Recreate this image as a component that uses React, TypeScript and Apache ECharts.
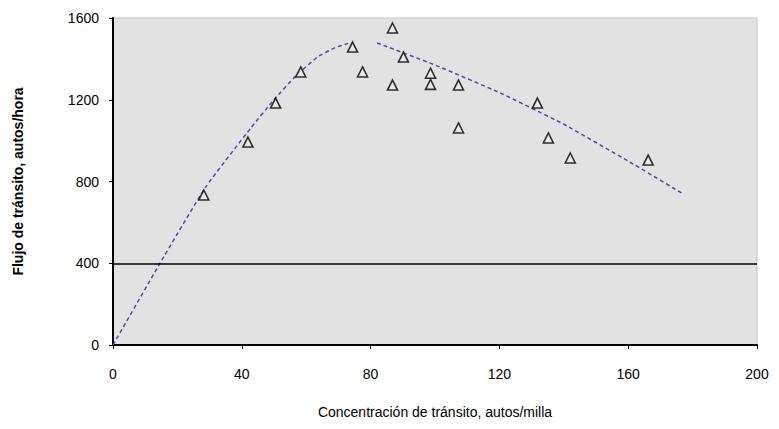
import React, { useEffect, useRef } from "react";
import * as echarts from "echarts";

const xTicks = [0, 40, 80, 120, 160, 200];
const yTicks = [0, 400, 800, 1200, 1600];

const observedPoints: [number, number][] = [
  [28.2, 734],
  [41.9, 993],
  [50.5, 1184],
  [58.3, 1336],
  [74.4, 1458],
  [77.5, 1336],
  [86.8, 1551],
  [86.8, 1272],
  [90.2, 1409],
  [98.6, 1330],
  [98.6, 1275],
  [107.3, 1272],
  [107.3, 1062],
  [131.8, 1184],
  [135.2, 1013],
  [142.0, 915],
  [166.2, 905],
];

const trendUncongested: [number, number][] = [
  [0, 0],
  [14.6, 400],
  [28.8, 773],
  [42.8, 1062],
  [50, 1200],
  [57, 1320],
  [63.6, 1410],
  [69, 1455],
  [73, 1476],
];

const trendCongested: [number, number][] = [
  [82, 1478],
  [100, 1370],
  [120, 1235],
  [140, 1080],
  [160, 900],
  [177, 740],
];

const thresholdFlow = 400;

const font = "'Liberation Sans', Arial, sans-serif";

export default function App() {
  const ref = useRef<HTMLDivElement>(null);
  useEffect(() => {
    if (!ref.current) return;
    const chart = echarts.init(ref.current, undefined, { renderer: "svg" });
    chart.setOption({
      animation: false,
      grid: {
        left: 113,
        right: 22,
        top: 18,
        bottom: 84,
        show: true,
        backgroundColor: "#e2e2e2",
        borderColor: "#c4c4c4",
        borderWidth: 1,
      },
      xAxis: {
        type: "value",
        min: 0,
        max: 200,
        interval: 40,
        name: "Concentración de tránsito, autos/milla",
        nameLocation: "middle",
        nameGap: 60,
        nameTextStyle: { fontFamily: font, fontSize: 14, color: "#000" },
        axisLine: { show: true, onZero: false, lineStyle: { color: "#000", width: 2 } },
        axisTick: { show: true, length: 4, lineStyle: { color: "#000" } },
        axisLabel: {
          fontFamily: font,
          fontSize: 14,
          color: "#000",
          margin: 22,
          formatter: (v: number) => String(v),
        },
        splitLine: { show: false },
      },
      yAxis: {
        type: "value",
        min: 0,
        max: 1600,
        interval: 400,
        name: "Flujo de tránsito, autos/hora",
        nameLocation: "middle",
        nameGap: 88,
        nameTextStyle: { fontFamily: font, fontSize: 14, fontWeight: "bold", color: "#000" },
        axisLine: { show: true, lineStyle: { color: "#000", width: 2 } },
        axisTick: { show: true, length: 4, lineStyle: { color: "#000" } },
        axisLabel: {
          fontFamily: font,
          fontSize: 14,
          color: "#000",
          margin: 14,
          formatter: (v: number) => String(v),
        },
        splitLine: { show: false },
      },
      series: [
        {
          type: "line",
          data: trendUncongested,
          smooth: 0.15,
          symbol: "none",
          lineStyle: { color: "#4b4ba6", width: 1.5, type: [4, 3] },
          z: 2,
          markLine: {
            silent: true,
            symbol: "none",
            label: { show: false },
            lineStyle: { color: "#000", width: 1.5, type: "solid" },
            data: [{ yAxis: thresholdFlow }],
          },
        },
        {
          type: "line",
          data: trendCongested,
          smooth: 0.15,
          symbol: "none",
          lineStyle: { color: "#4b4ba6", width: 1.5, type: [4, 3] },
          z: 2,
        },
        {
          type: "scatter",
          data: observedPoints,
          symbol: "triangle",
          symbolSize: 10,
          itemStyle: { color: "#ececec", borderColor: "#000", borderWidth: 1.6 },
          z: 3,
        },
      ],
    });
    return () => chart.dispose();
  }, []);
  return <div ref={ref} style={{ width: 779, height: 429, position: "absolute", left: 0, top: 0, background: "#fff" }} />;
}
